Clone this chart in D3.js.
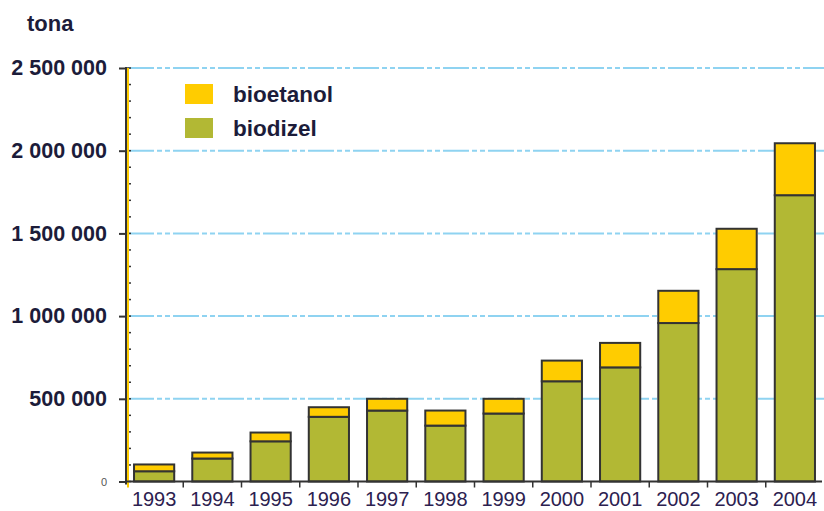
<!DOCTYPE html>
<html>
<head>
<meta charset="utf-8">
<script src="https://cdn.jsdelivr.net/npm/d3@7"></script>
<style>
    html, body { margin: 0; padding: 0; background: #ffffff; }
    svg { display: block; font-family: "Liberation Sans", Arial, sans-serif; }
</style>
</head>
<body>
<script>
const WIDTH_SVG = 824;
const HEIGHT_SVG = 511;

// data (tons)
const years = ["1993", "1994", "1995", "1996", "1997", "1998", "1999", "2000", "2001", "2002", "2003", "2004"];
const biodizel = [62000, 139000, 243000, 391000, 429000, 338000, 411000, 606000, 690000, 958000, 1284000, 1731000];
const bioetanol = [41000, 36000, 53000, 58000, 71000, 91000, 89000, 125000, 148000, 195000, 244000, 314000];
const yTicks = [0, 500000, 1000000, 1500000, 2000000, 2500000];
const seriesNames = ["bioetanol", "biodizel"];

const COLOR_ETANOL = "#ffcc00";
const COLOR_DIZEL = "#b2b834";
const GRID_COLOR = "#8fd3f1";
const AXIS_X = 126;
const ZERO_Y = 481.5;
const TOP_Y = 68;

const svg = d3.select("body")
    .append("svg")
        .attr("width", WIDTH_SVG)
        .attr("height", HEIGHT_SVG)
        .attr("viewBox", `0 0 ${WIDTH_SVG} ${HEIGHT_SVG}`);

const x = d3.scaleBand()
    .domain(years)
    .range([125, 824])
    .paddingInner(0.31)
    .paddingOuter(0.155);

const y = d3.scaleLinear()
    .domain([0, 2500000])
    .range([ZERO_Y, TOP_Y]);

// grid lines
svg.append("g")
    .selectAll("line")
    .data(yTicks.filter(d => d > 0))
    .join("line")
        .attr("x1", AXIS_X + 2)
        .attr("x2", WIDTH_SVG)
        .attr("y1", d => y(d))
        .attr("y2", d => y(d))
        .attr("stroke", GRID_COLOR)
        .attr("stroke-width", 2)
        .attr("stroke-dasharray", "26 3 5 3 5 3");

// stacked bars
const rows = years.map((yr, i) => ({ year: yr, biodizel: biodizel[i], bioetanol: bioetanol[i] }));
const stack = d3.stack().keys(["biodizel", "bioetanol"])(rows);
const colors = { biodizel: COLOR_DIZEL, bioetanol: COLOR_ETANOL };

svg.append("g")
    .selectAll("g")
    .data(stack)
    .join("g")
        .attr("fill", d => colors[d.key])
    .selectAll("rect")
    .data(d => d)
    .join("rect")
        .attr("x", d => x(d.data.year))
        .attr("y", d => y(d[1]))
        .attr("width", x.bandwidth())
        .attr("height", d => y(d[0]) - y(d[1]))
        .attr("stroke", "#333333")
        .attr("stroke-width", 2);

// y axis
const fmt = d => d3.format(",")(d).replace(/,/g, " ");
const yAxis = svg.append("g")
    .attr("transform", `translate(${AXIS_X},0)`)
    .call(d3.axisLeft(y).tickValues(yTicks).tickFormat(fmt).tickSize(7).tickPadding(12));
yAxis.select(".domain").remove();
yAxis.selectAll(".tick line").attr("stroke", "#333333").attr("stroke-width", 2);
yAxis.selectAll(".tick text")
    .attr("fill", "#1c1c3a")
    .attr("font-size", 21.5)
    .attr("font-weight", "bold")
    .attr("font-family", "Liberation Sans, Arial, sans-serif");
yAxis.selectAll(".tick text")
    .filter(d => d === 0)
    .attr("font-size", 11)
    .attr("font-weight", "normal")
    .attr("fill", "#555555");

// minor ticks every 100 000
svg.append("g")
    .selectAll("line")
    .data(d3.range(0, 2500001, 100000))
    .join("line")
        .attr("x1", AXIS_X)
        .attr("x2", AXIS_X + 5)
        .attr("y1", d => y(d))
        .attr("y2", d => y(d))
        .attr("stroke", "#333333")
        .attr("stroke-width", 1.5);

// axis line: dark with yellow edge
svg.append("line")
    .attr("x1", AXIS_X).attr("x2", AXIS_X)
    .attr("y1", TOP_Y - 1).attr("y2", ZERO_Y + 3)
    .attr("stroke", "#333333").attr("stroke-width", 2);
svg.append("line")
    .attr("x1", AXIS_X + 2).attr("x2", AXIS_X + 2)
    .attr("y1", TOP_Y).attr("y2", ZERO_Y + 6)
    .attr("stroke", COLOR_ETANOL).attr("stroke-width", 2);

// x axis
svg.append("line")
    .attr("x1", AXIS_X).attr("x2", 822)
    .attr("y1", ZERO_Y).attr("y2", ZERO_Y)
    .attr("stroke", "#333333").attr("stroke-width", 2);

const gap = x.step() * x.paddingInner() / 2;
svg.append("g")
    .selectAll("line")
    .data(years.slice(1))
    .join("line")
        .attr("x1", d => x(d) - gap)
        .attr("x2", d => x(d) - gap)
        .attr("y1", ZERO_Y)
        .attr("y2", ZERO_Y + 6)
        .attr("stroke", "#333333")
        .attr("stroke-width", 1.5);

const xAxis = svg.append("g")
    .attr("transform", `translate(0,${ZERO_Y})`)
    .call(d3.axisBottom(x).tickSize(0).tickPadding(10));
xAxis.select(".domain").remove();
xAxis.selectAll(".tick text")
    .attr("fill", "#2c2150")
    .attr("font-size", 20)
    .attr("font-family", "Liberation Sans, Arial, sans-serif");

// unit label
svg.append("text")
    .attr("x", 27)
    .attr("y", 31)
    .attr("font-size", 22)
    .attr("font-weight", "bold")
    .attr("fill", "#1c1c3a")
    .text("tona");

// legend
const legend = svg.append("g")
    .selectAll("g")
    .data(seriesNames)
    .join("g")
        .attr("transform", (d, i) => `translate(185,${84 + i * 34})`);
legend.append("rect")
    .attr("width", 28)
    .attr("height", 20)
    .attr("fill", d => d === "bioetanol" ? COLOR_ETANOL : COLOR_DIZEL);
legend.append("text")
    .attr("x", 48)
    .attr("y", 18)
    .attr("font-size", 22.5)
    .attr("font-weight", "bold")
    .attr("fill", "#1c1c3a")
    .text(d => d);
</script>
</body>
</html>
